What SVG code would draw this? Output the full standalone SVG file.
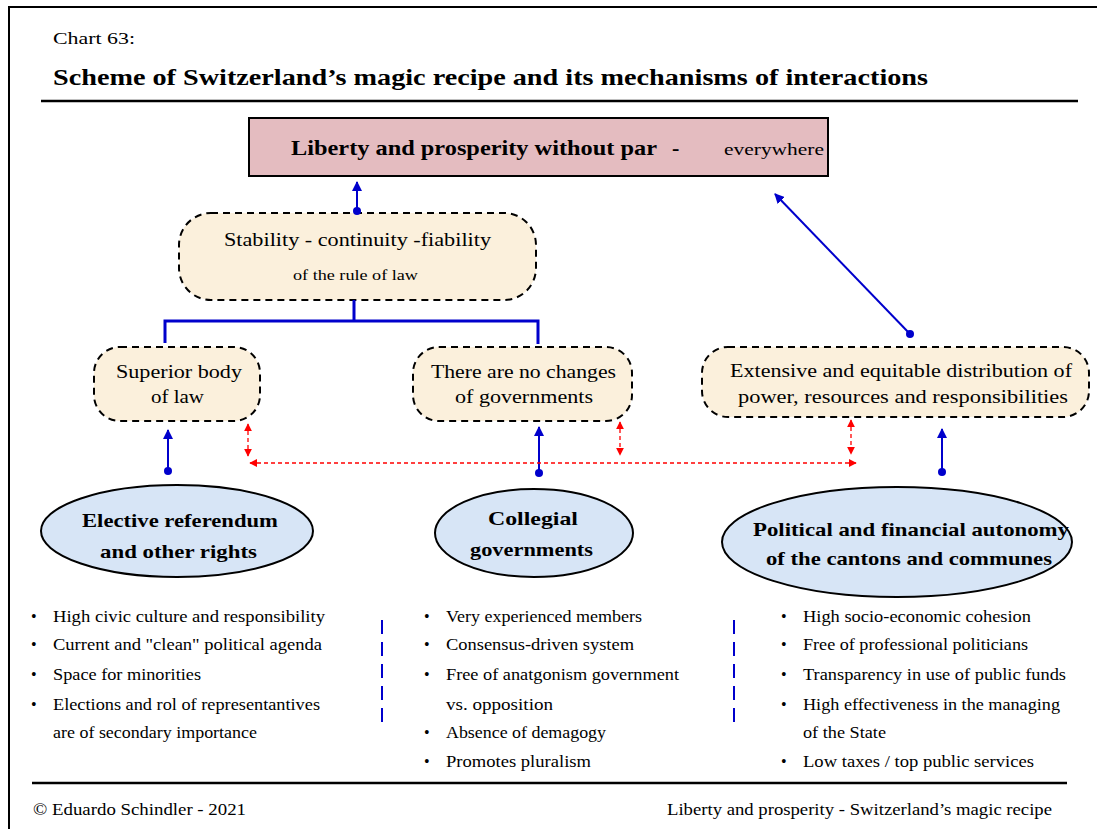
<svg xmlns="http://www.w3.org/2000/svg" width="1097" height="829" viewBox="0 0 1097 829">
  <style>
    text { font-family: "Liberation Serif", "Times New Roman", serif; fill: #000; }
    .frame { stroke: #000; stroke-width: 2; fill: none; }
    .rule { stroke: #000; stroke-width: 2.5; }
    .pill { fill: #fbf0dc; stroke: #000; stroke-width: 2; stroke-dasharray: 7 5; }
    .oval { fill: #d7e5f6; stroke: #000; stroke-width: 2; }
    .blue { stroke: #0000cc; stroke-width: 2; fill: none; }
    .bracket { stroke: #0000cc; stroke-width: 3; fill: none; }
    .red { stroke: #ff0000; stroke-width: 1.3; stroke-dasharray: 4 3; fill: none; }
    .sep { stroke: #0000cc; stroke-width: 2; stroke-dasharray: 14 8; }
    .dot { fill: #0000cc; }
    .node { font-size: 19px; }
    .oval-t { font-size: 19px; font-weight: bold; }
    .li { font-size: 16px; }
  </style>
  <defs>
    <marker id="arrBlue" viewBox="0 0 10 10" refX="9" refY="5" markerWidth="5" markerHeight="5" orient="auto">
      <path d="M0,0 L10,5 L0,10 z" fill="#0000cc"/>
    </marker>
    <marker id="arrRed" viewBox="0 0 10 10" refX="9" refY="5" markerWidth="6" markerHeight="6" orient="auto-start-reverse">
      <path d="M0,0 L10,5 L0,10 z" fill="#ff0000"/>
    </marker>
  </defs>

  <rect width="1097" height="829" fill="#fff"/>
  <!-- page frame (top and left edges) -->
  <path class="frame" d="M9,829 V7 H1097"/>

  <!-- header -->
  <text x="53" y="44" font-size="17" textLength="82" lengthAdjust="spacingAndGlyphs">Chart 63:</text>
  <text x="53" y="85" font-size="23" font-weight="bold" textLength="875" lengthAdjust="spacingAndGlyphs">Scheme of Switzerland’s magic recipe and its mechanisms of interactions</text>
  <line class="rule" x1="41" y1="101" x2="1078" y2="101"/>

  <!-- goal -->
  <g id="goal">
    <rect x="249" y="118" width="579" height="58" fill="#e4bcc0" stroke="#000" stroke-width="2"/>
    <text x="291" y="155" font-size="22" font-weight="bold" textLength="366" lengthAdjust="spacingAndGlyphs">Liberty and prosperity without par</text>
    <text x="672" y="155" font-size="22" font-weight="bold">-</text>
    <text x="724" y="155" font-size="17" textLength="100" lengthAdjust="spacingAndGlyphs">everywhere</text>
  </g>

  <g id="stability">
    <rect class="pill" x="179" y="213" width="357" height="87" rx="32"/>
    <text x="224" y="246" font-size="18" textLength="267" lengthAdjust="spacingAndGlyphs">Stability - continuity -fiability</text>
    <text x="293" y="280" font-size="14" textLength="125" lengthAdjust="spacingAndGlyphs">of the rule of law</text>
  </g>

  <g id="superior-law">
    <rect class="pill" x="94" y="347" width="166" height="74" rx="26"/>
    <text class="node" x="116" y="378" textLength="126" lengthAdjust="spacingAndGlyphs">Superior body</text>
    <text class="node" x="151" y="403" textLength="53" lengthAdjust="spacingAndGlyphs">of law</text>
  </g>

  <g id="no-changes">
    <rect class="pill" x="413" y="347" width="219" height="74" rx="26"/>
    <text class="node" x="431" y="378" textLength="185" lengthAdjust="spacingAndGlyphs">There are no changes</text>
    <text class="node" x="455" y="403" textLength="138" lengthAdjust="spacingAndGlyphs">of governments</text>
  </g>

  <g id="distribution">
    <rect class="pill" x="702" y="347" width="387" height="70" rx="26"/>
    <text class="node" x="730" y="377" textLength="342" lengthAdjust="spacingAndGlyphs">Extensive and equitable distribution of</text>
    <text class="node" x="738" y="403" textLength="330" lengthAdjust="spacingAndGlyphs">power, resources and responsibilities</text>
  </g>

  <g id="referendum">
    <ellipse class="oval" cx="177" cy="531" rx="136" ry="46"/>
    <text class="oval-t" x="82" y="527" textLength="196" lengthAdjust="spacingAndGlyphs">Elective referendum</text>
    <text class="oval-t" x="100" y="558" textLength="157" lengthAdjust="spacingAndGlyphs">and other rights</text>
  </g>

  <g id="collegial">
    <ellipse class="oval" cx="534" cy="533" rx="99" ry="44"/>
    <text class="oval-t" x="488" y="525" textLength="90" lengthAdjust="spacingAndGlyphs">Collegial</text>
    <text class="oval-t" x="470" y="556" textLength="123" lengthAdjust="spacingAndGlyphs">governments</text>
  </g>

  <g id="autonomy">
    <ellipse class="oval" cx="897" cy="542" rx="175" ry="55"/>
    <text class="oval-t" x="753" y="536" textLength="316" lengthAdjust="spacingAndGlyphs">Political and financial autonomy</text>
    <text class="oval-t" x="766" y="565" textLength="286" lengthAdjust="spacingAndGlyphs">of the cantons and communes</text>
  </g>

  <!-- connectors -->
  <g id="connectors">
    <line class="blue" x1="357" y1="211" x2="357" y2="182" marker-end="url(#arrBlue)"/>
    <circle class="dot" cx="357" cy="211" r="4"/>

    <path class="bracket" d="M354,300 V321 M165,343 V321 H538 V344"/>

    <line class="blue" x1="910" y1="334" x2="775" y2="194" marker-end="url(#arrBlue)"/>
    <circle class="dot" cx="910" cy="334" r="4"/>

    <line class="blue" x1="168" y1="471" x2="168" y2="430" marker-end="url(#arrBlue)"/>
    <circle class="dot" cx="168" cy="471" r="4"/>
    <line class="blue" x1="539" y1="473" x2="539" y2="427" marker-end="url(#arrBlue)"/>
    <circle class="dot" cx="539" cy="473" r="4"/>
    <line class="blue" x1="942" y1="472" x2="942" y2="429" marker-end="url(#arrBlue)"/>
    <circle class="dot" cx="942" cy="472" r="4"/>

    <line class="red" x1="248" y1="424" x2="248" y2="456" marker-start="url(#arrRed)" marker-end="url(#arrRed)"/>
    <line class="red" x1="620" y1="422" x2="620" y2="455" marker-start="url(#arrRed)" marker-end="url(#arrRed)"/>
    <line class="red" x1="851" y1="420" x2="851" y2="454" marker-start="url(#arrRed)" marker-end="url(#arrRed)"/>
    <line class="red" x1="250" y1="463" x2="856" y2="463" marker-start="url(#arrRed)" marker-end="url(#arrRed)"/>

    <line class="sep" x1="382" y1="620" x2="382" y2="722"/>
    <line class="sep" x1="734" y1="620" x2="734" y2="722"/>
  </g>

  <!-- feature lists -->
  <g id="list-left">
    <text class="li" x="31" y="622">•</text><text class="li" x="53" y="622" textLength="272" lengthAdjust="spacingAndGlyphs">High civic culture and responsibility</text>
    <text class="li" x="31" y="650">•</text><text class="li" x="53" y="650" textLength="269" lengthAdjust="spacingAndGlyphs">Current and "clean" political agenda</text>
    <text class="li" x="31" y="680">•</text><text class="li" x="53" y="680" textLength="148" lengthAdjust="spacingAndGlyphs">Space for minorities</text>
    <text class="li" x="31" y="710">•</text><text class="li" x="53" y="710" textLength="267" lengthAdjust="spacingAndGlyphs">Elections and rol of representantives</text>
    <text class="li" x="53" y="738" textLength="204" lengthAdjust="spacingAndGlyphs">are of secondary importance</text>
  </g>
  <g id="list-middle">
    <text class="li" x="424" y="622">•</text><text class="li" x="446" y="622" textLength="196" lengthAdjust="spacingAndGlyphs">Very experienced members</text>
    <text class="li" x="424" y="650">•</text><text class="li" x="446" y="650" textLength="188" lengthAdjust="spacingAndGlyphs">Consensus-driven system</text>
    <text class="li" x="424" y="680">•</text><text class="li" x="446" y="680" textLength="233" lengthAdjust="spacingAndGlyphs">Free of anatgonism government</text>
    <text class="li" x="446" y="710" textLength="107" lengthAdjust="spacingAndGlyphs">vs. opposition</text>
    <text class="li" x="424" y="738">•</text><text class="li" x="446" y="738" textLength="160" lengthAdjust="spacingAndGlyphs">Absence of demagogy</text>
    <text class="li" x="424" y="767">•</text><text class="li" x="446" y="767" textLength="145" lengthAdjust="spacingAndGlyphs">Promotes pluralism</text>
  </g>
  <g id="list-right">
    <text class="li" x="781" y="622">•</text><text class="li" x="803" y="622" textLength="228" lengthAdjust="spacingAndGlyphs">High socio-economic cohesion</text>
    <text class="li" x="781" y="650">•</text><text class="li" x="803" y="650" textLength="225" lengthAdjust="spacingAndGlyphs">Free of professional politicians</text>
    <text class="li" x="781" y="680">•</text><text class="li" x="803" y="680" textLength="263" lengthAdjust="spacingAndGlyphs">Transparency in use of public funds</text>
    <text class="li" x="781" y="710">•</text><text class="li" x="803" y="710" textLength="257" lengthAdjust="spacingAndGlyphs">High effectiveness in the managing</text>
    <text class="li" x="803" y="738" textLength="83" lengthAdjust="spacingAndGlyphs">of the State</text>
    <text class="li" x="781" y="767">•</text><text class="li" x="803" y="767" textLength="231" lengthAdjust="spacingAndGlyphs">Low taxes / top public services</text>
  </g>

  <!-- footer -->
  <line class="rule" x1="32" y1="783" x2="1067" y2="783"/>
  <text x="33" y="815" font-size="16" textLength="213" lengthAdjust="spacingAndGlyphs">© Eduardo Schindler - 2021</text>
  <text x="667" y="815" font-size="16" textLength="385" lengthAdjust="spacingAndGlyphs">Liberty and prosperity - Switzerland’s magic recipe</text>
</svg>
